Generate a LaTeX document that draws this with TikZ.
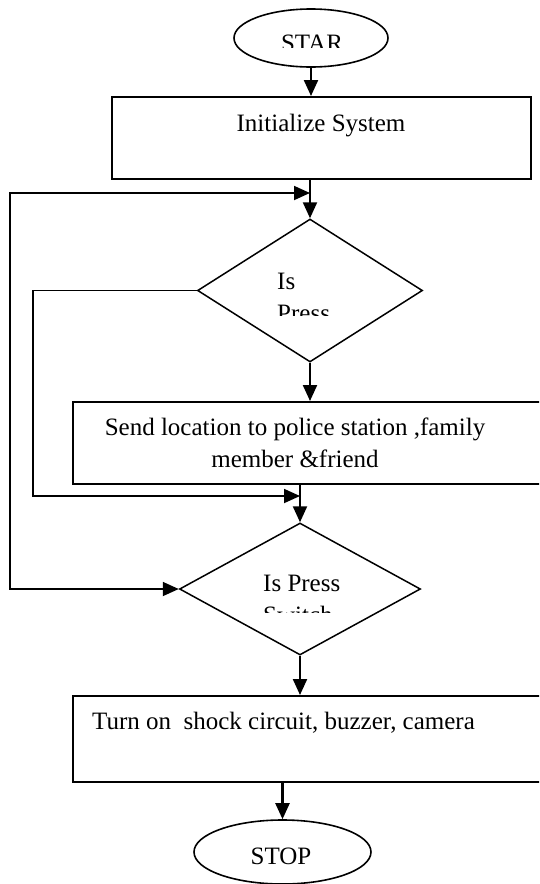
\documentclass[tikz,border=0pt]{standalone}
\usepackage{fontspec}
\setmainfont{Liberation Serif}
\usetikzlibrary{shapes.geometric,arrows.meta}

\begin{document}
\begin{tikzpicture}[x=1pt,y=1pt,yscale=-1,xscale=1,
	every node/.style={font=\fontsize{25}{32}\selectfont},
	terminal/.style={draw,ellipse,line width=1.6pt,inner sep=0pt},
	process/.style={draw,rectangle,line width=2pt,inner sep=0pt},
	decision/.style={draw,diamond,line width=1.5pt,inner sep=0pt},
	lbl/.style={inner sep=0pt},
	flow/.style={line width=2.2pt,-{Triangle[length=16pt,width=14pt]}},
	loopline/.style={line width=1.8pt,-{Triangle[length=16pt,width=14pt]}}
	]
	\useasboundingbox (0,0) rectangle (539,884);
	\clip (0,0) rectangle (539,884);
	
	%Shapes
	\node[terminal,minimum width=154pt,minimum height=58pt] (start) at (311,38) {};
	\node[process,minimum width=419pt,minimum height=82pt] (init) at (321.5,138) {};
	\node[decision,minimum width=225pt,minimum height=143pt] (ask1) at (310,290.5) {};
	\node[process,anchor=north west,minimum width=490pt,minimum height=82pt] (send) at (71.5,401) {};
	\node[decision,minimum width=241pt,minimum height=132pt] (ask2) at (300,589) {};
	\node[process,anchor=north west,minimum width=490pt,minimum height=86pt] (act) at (71.5,695) {};
	\node[terminal,minimum width=177pt,minimum height=64pt] (stop) at (282.5,852) {};
	
	%Loop corners
	\coordinate (outer) at (10,193);
	\coordinate (inner) at (33,496);
	\coordinate (join1) at (ask1.north |- outer);
	\coordinate (join2) at (ask2.north |- inner);
	
	%Straight Lines
	\draw[flow] (start.south) -- (start.south |- init.north);
	\draw[flow] (init.south -| ask1.north) -- (ask1.north);
	\draw[flow] (ask1.south) -- (ask1.south |- send.north);
	\draw[flow] (send.south -| ask2.north) -- (ask2.north);
	\draw[flow] (ask2.south) -- (ask2.south |- act.north);
	\draw[flow] (act.south -| stop.north) -- (stop.north);
	\draw[loopline] (ask1.west) -- (ask1.west -| inner) -- (inner) -- (join2);
	\draw[loopline,{Triangle[length=16pt,width=14pt]}-{Triangle[length=16pt,width=14pt]}] (ask2.west) -- (ask2.west -| outer) -- (outer) -- (join1);
	
	% Text Node
	\begin{scope}
		\clip (0,0) rectangle (539,47);
		\node[lbl,anchor=base] (startlbl) at (312,51) {STAR};
	\end{scope}
	\node[lbl,anchor=base] (initlbl) at (321,131) {Initialize System};
	\begin{scope}
		\clip (0,0) rectangle (539,315);
		\node[lbl,anchor=base west,align=left] (ask1lbl) at (277,321) {Is\\Press};
	\end{scope}
	\node[lbl,anchor=base,align=center] (sendlbl) at (295,467) {Send location to police station ,family\\member \&friend};
	\begin{scope}
		\clip (0,0) rectangle (539,612);
		\node[lbl,anchor=base west,align=left] (ask2lbl) at (263,623) {Is Press\\Switch};
	\end{scope}
	\node[lbl,anchor=base west] (actlbl) at (92,729) {Turn on\ \ shock circuit, buzzer, camera};
	\node[lbl,anchor=base] (stoplbl) at (281,864) {STOP};
	
\end{tikzpicture}
\end{document}
